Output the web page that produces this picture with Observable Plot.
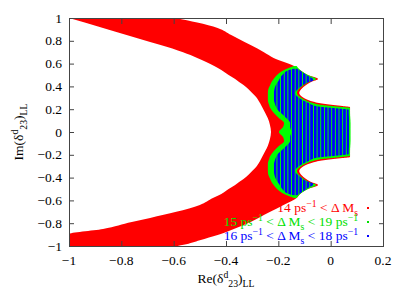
<!DOCTYPE html>
<html><head><meta charset="utf-8">
<script src="https://cdn.jsdelivr.net/npm/d3@7"></script>
<script src="https://cdn.jsdelivr.net/npm/@observablehq/plot@0.6"></script>
<style>body{margin:0;background:#fff} svg{display:block}</style>
</head><body><div id="chart"></div>
<script>
const xTicks = [-1, -0.8, -0.6, -0.4, -0.2, 0, 0.2];
const yTicks = [-1, -0.8, -0.6, -0.4, -0.2, 0, 0.2, 0.4, 0.6, 0.8, 1];

// 14 ps^-1 < ΔMs  (red band): for each Im, Re from redLo to redHi
const redIm = [-1.00,-0.99,-0.95,-0.904,-0.895,-0.85,-0.789,-0.754,-0.70,-0.64,-0.58,-0.544,-0.50,-0.465,-0.439,-0.412,-0.377,-0.342,-0.307,-0.281,-0.265,-0.254,-0.245,-0.237,-0.228,-0.219,-0.167,-0.12,-0.061,0,
  0.061,0.12,0.167,0.219,0.228,0.237,0.245,0.254,0.265,0.281,0.307,0.342,0.377,0.412,0.439,0.465,0.50,0.544,0.58,0.65,0.70,0.763,0.79,0.85,0.912,0.96,1.00];
const redLo = [-1.00,-1.00,-1.00,-1.00,-1.00,-0.87,-0.76,-0.69,-0.59,-0.50,-0.45,-0.418,-0.39,-0.365,-0.35,-0.333,-0.315,-0.300,-0.285,-0.277,-0.273,-0.270,-0.268,-0.266,-0.264,-0.262,-0.250,-0.240,-0.232,-0.228,
  -0.232,-0.240,-0.250,-0.262,-0.264,-0.266,-0.268,-0.270,-0.273,-0.277,-0.285,-0.300,-0.315,-0.333,-0.35,-0.365,-0.39,-0.418,-0.445,-0.51,-0.564,-0.65,-0.69,-0.78,-0.87,-0.94,-1.00];
const redHi = [-0.585,-0.562,-0.50,-0.432,-0.42,-0.37,-0.306,-0.276,-0.231,-0.180,-0.13,-0.117,-0.087,-0.048,-0.075,-0.094,-0.112,-0.120,-0.108,-0.086,-0.065,-0.045,-0.020,0.010,0.045,0.074,0.074,0.074,0.074,0.074,
  0.074,0.074,0.074,0.074,0.045,0.010,-0.020,-0.045,-0.065,-0.086,-0.108,-0.120,-0.112,-0.094,-0.075,-0.048,-0.087,-0.117,-0.140,-0.218,-0.255,-0.306,-0.329,-0.38,-0.432,-0.51,-0.592];

// 15 ps^-1 < ΔMs < 19 ps^-1 (green)
const greenIm = [-0.579,-0.544,-0.50,-0.465,-0.439,-0.412,-0.377,-0.342,-0.307,-0.281,-0.254,-0.237,-0.228,-0.219,-0.211,-0.167,-0.123,-0.079,-0.044,0,
  0.044,0.079,0.123,0.167,0.211,0.219,0.228,0.237,0.254,0.281,0.307,0.342,0.377,0.412,0.439,0.465,0.50,0.544,0.579];
const greenLo = [-0.14,-0.178,-0.205,-0.218,-0.226,-0.231,-0.238,-0.240,-0.240,-0.240,-0.238,-0.235,-0.234,-0.233,-0.231,-0.217,-0.198,-0.178,-0.182,-0.198,
  -0.182,-0.178,-0.198,-0.217,-0.231,-0.233,-0.234,-0.235,-0.238,-0.240,-0.240,-0.240,-0.238,-0.231,-0.226,-0.218,-0.205,-0.178,-0.14];
const greenHi = [-0.13,-0.117,-0.087,-0.056,-0.083,-0.102,-0.121,-0.129,-0.117,-0.098,-0.068,-0.033,0.005,0.043,0.074,0.074,0.075,0.076,0.076,0.076,
  0.076,0.076,0.075,0.074,0.074,0.043,0.005,-0.033,-0.068,-0.098,-0.117,-0.129,-0.121,-0.102,-0.083,-0.056,-0.087,-0.117,-0.13];

// 16 ps^-1 < ΔMs < 18 ps^-1 (blue)
const blueIm = [-0.555,-0.544,-0.50,-0.455,-0.435,-0.41,-0.375,-0.342,-0.307,-0.281,-0.254,-0.239,-0.222,-0.213,-0.204,-0.196,-0.167,-0.123,-0.079,-0.044,0,
  0.044,0.079,0.123,0.167,0.196,0.204,0.213,0.222,0.239,0.254,0.281,0.307,0.342,0.375,0.41,0.435,0.455,0.50,0.544,0.555];
const blueLo = [-0.14,-0.160,-0.185,-0.198,-0.204,-0.21,-0.215,-0.217,-0.217,-0.217,-0.214,-0.212,-0.209,-0.207,-0.205,-0.203,-0.19,-0.17,-0.155,-0.155,-0.15,
  -0.155,-0.155,-0.17,-0.19,-0.203,-0.205,-0.207,-0.209,-0.212,-0.214,-0.217,-0.217,-0.217,-0.215,-0.21,-0.204,-0.198,-0.185,-0.160,-0.14];
const blueHi = [-0.128,-0.121,-0.092,-0.064,-0.088,-0.107,-0.126,-0.136,-0.125,-0.108,-0.084,-0.072,-0.040,0.0,0.040,0.069,0.069,0.070,0.070,0.070,0.070,
  0.070,0.070,0.070,0.069,0.069,0.040,0.0,-0.040,-0.072,-0.084,-0.108,-0.125,-0.136,-0.126,-0.107,-0.088,-0.064,-0.092,-0.121,-0.128];

const legendLabels = [
  {color: "#ff0000", parts: [["14 ps",""],["−1","sup"],[" < Δ M",""],["s","sub"]]},
  {color: "#00e000", parts: [["15 ps",""],["−1","sup"],[" < Δ M",""],["s","sub"],[" < 19 ps",""],["−1","sup"]]},
  {color: "#0000ff", parts: [["16 ps",""],["−1","sup"],[" < Δ M",""],["s","sub"],[" < 18 ps",""],["−1","sup"]]}
];
const xLabelParts = [["Re(δ",""],["d","sup"],["23","sub"],[")",""],["LL","sub"]];
const yLabelParts = [["Im(δ",""],["d","sup"],["23","sub"],[")",""],["LL","sub"]];

const rows = (im, lo, hi) => im.map((v, i) => ({im: v, lo: lo[i], hi: hi[i]}));
const fmt = d3.format("~g");
const FONT = "Liberation Serif, DejaVu Serif, serif";
const FS = 13.5;

const plot = Plot.plot({
  width: 409, height: 298,
  marginLeft: 69, marginRight: 26, marginTop: 18, marginBottom: 52,
  style: {fontFamily: FONT, fontSize: FS + "px", color: "#000", background: "#fff", overflow: "visible"},
  x: {domain: [-1, 0.2], label: null},
  y: {domain: [-1, 1], label: null},
  marks: [
    Plot.areaX(rows(redIm, redLo, redHi), {y: "im", x1: "lo", x2: "hi", fill: "#ff0000", curve: "monotone-y"}),
    Plot.areaX(rows(greenIm, greenLo, greenHi), {y: "im", x1: "lo", x2: "hi", fill: "#00ff00", curve: "monotone-y"}),
    Plot.areaX(rows(blueIm, blueLo, blueHi), {y: "im", x1: "lo", x2: "hi", fill: "url(#bstripes)", curve: "monotone-y"}),
    Plot.frame({stroke: "#444"}),
    Plot.axisX(xTicks, {anchor: "bottom", tickSize: -5, tickFormat: () => "", stroke: "#444", label: null}),
    Plot.axisX(xTicks, {anchor: "top", tickSize: -5, tickFormat: () => "", stroke: "#444", label: null}),
    Plot.axisY(yTicks, {anchor: "left", tickSize: -5, tickFormat: () => "", stroke: "#444", label: null}),
    Plot.axisY(yTicks, {anchor: "right", tickSize: -5, tickFormat: () => "", stroke: "#444", label: null})
  ]
});

const s = d3.select(plot);
const sx = plot.scale("x"), sy = plot.scale("y");
const pat = s.insert("defs", ":first-child").append("pattern")
  .attr("id", "bstripes").attr("patternUnits", "userSpaceOnUse")
  .attr("width", 3.65).attr("height", 4);
pat.append("rect").attr("x", 0).attr("y", 0).attr("width", 2.7).attr("height", 4).attr("fill", "#0000ff");

const txt = () => s.append("text").attr("font-family", FONT).attr("font-size", FS).attr("fill", "#000");

// tick labels (serif, like the reference)
const bottomY = sy.apply(-1), leftX = sx.apply(-1);
xTicks.forEach(v => txt().attr("x", sx.apply(v)).attr("y", bottomY + 19).attr("text-anchor", "middle").text(fmt(v)));
yTicks.forEach(v => txt().attr("x", leftX - 7).attr("y", sy.apply(v) + 4.5).attr("text-anchor", "end").text(fmt(v)));

function richText(g, parts, fontSize) {
  let state = "";
  const off = k => k === "sup" ? -0.38 * fontSize : k === "sub" ? 0.28 * fontSize : 0;
  for (const [t, kind] of parts) {
    const dy = off(kind) - off(state);
    const ts = g.append("tspan").text(t);
    if (dy) ts.attr("dy", dy);
    if (kind) ts.attr("font-size", fontSize * 0.72);
    state = kind;
  }
}

// axis titles
const xl = txt().attr("x", (sx.apply(-1) + sx.apply(0.2)) / 2).attr("y", 283).attr("text-anchor", "middle");
richText(xl, xLabelParts, FS);
const yl = txt().attr("transform", `translate(23,${(sy.apply(-1) + sy.apply(1)) / 2}) rotate(-90)`).attr("text-anchor", "middle");
richText(yl, yLabelParts, FS);

// legend
legendLabels.forEach((L, i) => {
  const y = 212 + i * 14;
  const t = txt().attr("x", 358).attr("y", y).attr("text-anchor", "end").attr("fill", L.color);
  richText(t, L.parts, FS);
  s.append("rect").attr("x", 367).attr("y", y - 5).attr("width", 2).attr("height", 2).attr("fill", L.color);
});

document.getElementById("chart").appendChild(plot);
</script>
</body></html>
